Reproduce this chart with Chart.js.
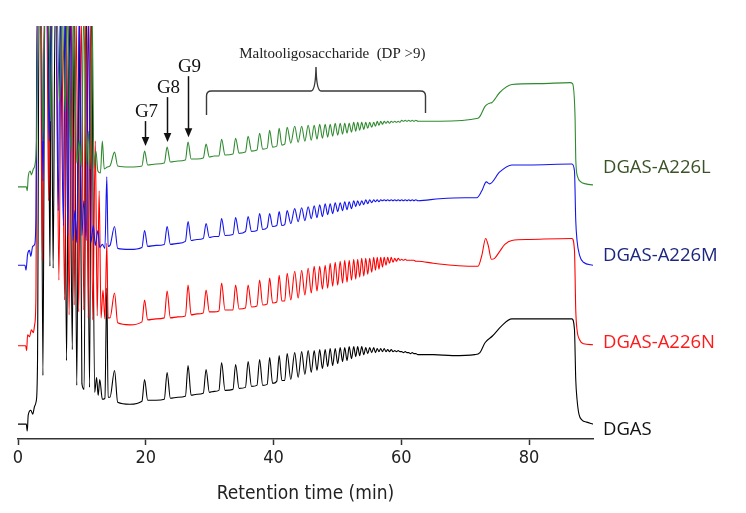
<!DOCTYPE html>
<html>
<head>
<meta charset="utf-8">
<script src="https://cdn.jsdelivr.net/npm/chart.js@4.4.0/dist/chart.umd.min.js"></script>
<style>
html,body{margin:0;padding:0;background:#fff;}
canvas{display:block;}
</style>
</head>
<body>
<canvas id="c" width="746" height="513"></canvas>
<script>
// ---------- DATA (retention time in min, detector response in arbitrary units) ----------
const xTickValues = [0, 20, 40, 60, 80];
const seriesNames = ['DGAS-A226L', 'DGAS-A226M', 'DGAS-A226N', 'DGAS'];

// oligosaccharide peak apex times (G6, G7, G8, G9, DP10 ...)
const peakTimes = [15.11,19.81,23.34,26.62,29.44,31.87,34.06,36.02,37.82,39.39,
  40.88,42.13,43.31,44.40,45.42,46.36,47.22,48.08,48.86,49.65,
  50.43,51.14,51.84,52.55,53.17,53.80,54.43,55.05,55.68,56.23,
  56.77,57.32,57.87,58.42,58.97,59.51,60.06,60.61,61.16,61.71,
  62.26];
// valley / peak-foot times between those peaks
const valleyTimes = [14.4,15.6,17.5,19.4,20.3,21.6,22.9,23.85,25.0,26.2,
  27.1,28.0,29.0,29.95,30.7,31.45,32.4,33.65,34.6,35.6,
  36.55,37.4,38.3,39.0,39.85,40.5,41.3,41.75,42.7,43.85,
  44.9,45.9,46.8,47.65,48.47,49.25,50.04,50.8,51.5,52.2,
  52.86,53.48,54.12,54.74,55.36,55.95,56.5,57.05,57.6,58.15,
  58.7,59.24,59.78,60.33,60.88,61.43,61.98,62.6];

// ---- DGAS-A226L (green) ----
const lEarly = [[0,254],[1.3,254],[1.45,250],[1.6,264],[1.9,270],[2.1,266],[2.4,272],[2.65,276],[2.9,300],[3.2,430],
  [3.6,430],[3.9,300],[4.2,430],[4.8,430],[5.1,320],[5.4,430],[6.1,430],[6.5,340],[6.9,430],[7.4,330],
  [7.7,430],[8.3,290],[8.7,430],[9.2,278],[9.6,300],[9.9,274],[10.3,430],[10.7,276],[11.0,310],[11.3,272],
  [11.6,430],[11.9,273],[12.2,290],[12.5,270],[12.9,268],[13.2,300],[13.5,272],[14.0,274]];
const lPeaks = [289,290,294,299,297,302,303,305,308,311,
  313,314,315,315,316,316,317,317,317,318,
  318,318,318,319,319,319,319,319,319,320,
  320,320,320,320,320,320,321,321,321,321,
  321];
const lValleys = [275,275,274,275,276,277,278,279,280,281,
  282,282,283,284,285,285,286,287,288,289,
  290,291,292,293,294,295,296,297,298,299,
  300,301,302,303,304,305,306,307,308,309,
  310,311,312,313,314,315,316,317,318,318,
  319,319,319,320,320,320,320,320];
const lTail = [[66.0,320],[72.0,323],[72.4,326],[73.1,335],[73.7,338],[74.2,339],[75.4,349],[77.3,357],[81.7,358],[86.4,359],
  [86.8,358],[87.2,322],[87.3,282],[87.6,264],[88.1,259],[88.9,257],[90.0,256]];

// ---- DGAS-A226M (blue) ----
const mEarly = [[0,175],[1.1,175],[1.25,170],[1.5,186],[1.8,190],[2.0,184],[2.3,194],[2.6,196],[2.8,220],[3.0,430],
  [3.6,430],[3.9,260],[4.2,430],[4.6,430],[4.9,300],[5.2,430],[5.9,430],[6.3,230],[6.6,430],[7.1,215],
  [7.4,430],[7.8,205],[8.2,430],[8.6,200],[8.9,230],[9.2,198],[9.6,430],[10.0,205],[10.3,240],[10.7,200],
  [11.0,430],[11.4,198],[11.8,215],[12.1,195],[12.5,210],[12.8,193],[13.2,196],[13.6,192],[13.9,264],[14.1,194]];
const mPeaks = [214,210,214,219,217,222,223,224,227,227,
  229,230,232,233,234,235,236,237,237,238,
  238,239,239,240,240,240,241,241,241,241,
  241,241,241,241,241,241,241,241,241,241,
  241];
const mValleys = [195,192,191,193,194,195,196,196,197,199,
  200,201,202,203,204,204,205,206,207,209,
  209,210,211,213,214,215,215,216,217,219,
  220,222,223,224,226,227,229,230,231,232,
  234,235,236,237,238,239,239,240,240,240,
  240,240,240,240,240,240,240,240];
const mTail = [[66.0,242],[70.0,243],[71.8,243],[72.6,250],[73.3,259],[73.8,257],[75.4,269],[77.3,276],[80.0,276],[86.7,277],
  [87.1,270],[87.3,220],[87.5,200],[87.9,185],[88.5,178],[90.0,175]];

// ---- DGAS-A226N (red) ----
const nEarly = [[0,94],[1.2,94],[1.35,89],[1.5,105],[1.8,103],[2.1,110],[2.4,107],[2.6,115],[2.8,140],[3.0,430],
  [3.5,430],[3.8,180],[4.1,430],[4.5,430],[4.8,240],[5.1,430],[6.0,430],[6.4,160],[6.8,430],[7.3,140],
  [7.6,430],[8.0,125],[8.4,430],[8.8,135],[9.1,430],[9.5,128],[9.9,430],[10.3,130],[10.6,430],[11.0,122],
  [11.3,430],[11.7,120],[12.1,300],[12.4,124],[12.7,250],[13.0,122],[13.3,150],[13.6,121],[13.9,197],[14.1,122]];
const nPeaks = [147,140,149,155,150,157,155,155,160,162,
  165,167,169,170,172,174,174,175,177,178,
  179,180,180,181,181,182,182,182,183,183,
  183,183,183,183,182,182,181,181,180,180,
  179];
const nValleys = [122,117,115,118,120,121,122,122,123,124,
  125,126,127,128,128,129,130,130,131,132,
  133,134,135,136,137,138,139,139,140,142,
  145,147,149,151,152,154,155,157,158,160,
  161,163,164,166,168,170,171,173,175,177,
  178,179,180,180,180,180,180,179];
const nTail = [[65.0,177],[68.0,175],[71.0,174],[72.0,174],[72.6,185],[73.2,202],[73.6,195],[74.1,181],[74.6,182],[75.4,189],
  [76.2,196],[77.3,200],[80.0,201],[86.7,202],[87.1,190],[87.3,130],[87.5,110],[87.9,100],[88.5,96],[90.0,95]];

// ---- DGAS (black) ----
const dEarly = [[0,15],[1.3,15],[1.45,8],[1.6,24],[2.0,29],[2.3,25],[2.6,33],[2.85,38],[3.05,75],[3.3,430],
  [3.6,430],[3.9,64],[4.2,430],[4.7,430],[5.0,174],[5.2,430],[5.5,172],[5.8,430],[7.2,430],[7.6,79],
  [8.0,430],[8.5,90],[8.8,430],[9.2,54],[9.6,430],[10.0,56],[10.35,50],[10.7,430],[11.2,52],[11.5,430],
  [12.0,47],[12.3,62],[12.55,44],[12.8,60],[13.2,40],[13.6,41],[13.9,152],[14.1,42]];
const dPeaks = [69,60,67,74,70,77,75,78,80,82,
  84,86,87,88,89,89,90,90,91,91,
  92,92,93,93,93,93,92,92,92,91,
  91,91,90,90,89,89,88,88,87,87,
  86];
const dValleys = [42,37,35,38,39,39,40,41,42,43,
  44,45,46,47,48,49,49,50,51,52,
  53,54,54,55,56,58,59,59,60,62,
  65,67,69,71,73,74,76,78,79,81,
  83,84,85,86,87,87,88,88,88,88,
  88,88,88,87,87,86,86,85];
const dTail = [[65.0,85],[68.0,84],[71.5,85],[72.3,87],[73.1,97],[74.3,104],[75.7,114],[77.3,121],[86.7,121],[87.1,110],
  [87.3,60],[87.5,40],[87.8,25],[88.3,19],[89.0,17],[90.0,15]];

// annotation content
const gLabels = ['G7', 'G8', 'G9'];
const gPeakIndex = [1, 2, 3];
const dpLabel = 'Maltooligosaccharide  (DP >9)';
const dpRangeEnd = 63.7;

// ---------- BUILD ----------
function buildTrace(early, peaks, valleys, tail) {
  const mid = peakTimes.map((t, i) => ({x: t, y: peaks[i]}))
    .concat(valleyTimes.map((t, i) => ({x: t, y: valleys[i]})))
    .sort((a, b) => a.x - b.x);
  return early.map(([x, y]) => ({x, y})).concat(mid, tail.map(([x, y]) => ({x, y})));
}
const colors = ['#2f8a2f', '#1414ee', '#ff0000', '#000000'];
const labelColors = ['#3b5228', '#1c2680', '#ff1a1a', '#111111'];
const traces = [
  buildTrace(lEarly, lPeaks, lValleys, lTail),
  buildTrace(mEarly, mPeaks, mValleys, mTail),
  buildTrace(nEarly, nPeaks, nValleys, nTail),
  buildTrace(dEarly, dPeaks, dValleys, dTail)
];

const annotPlugin = {
  id: 'annot',
  afterDatasetsDraw(chart) {
    const {ctx, scales: {x, y}, chartArea} = chart;
    ctx.save();
    // G7 / G8 / G9 arrows
    ctx.strokeStyle = '#111'; ctx.fillStyle = '#111'; ctx.lineWidth = 1.5;
    const arrowLen = [25, 45, 61];
    gPeakIndex.forEach((pi, k) => {
      const px = Math.round(x.getPixelForValue(peakTimes[pi])) + 0.5;
      const tip = y.getPixelForValue(lPeaks[pi]) - 5;
      const top = tip - arrowLen[k];
      ctx.beginPath(); ctx.moveTo(px, top); ctx.lineTo(px, tip - 7); ctx.stroke();
      ctx.beginPath(); ctx.moveTo(px - 3.8, tip - 9); ctx.lineTo(px + 3.8, tip - 9); ctx.lineTo(px, tip); ctx.closePath(); ctx.fill();
      ctx.font = '19px "Liberation Serif", "Times New Roman", serif';
      ctx.textAlign = 'center'; ctx.textBaseline = 'alphabetic';
      ctx.fillText(gLabels[k], px + 1, top - 4);
    });
    // brace for DP > 9
    const L = Math.round(x.getPixelForValue(peakTimes[4])) + 0.5;
    const R = Math.round(x.getPixelForValue(dpRangeEnd)) + 0.5;
    const M = (L + R) / 2;
    const hy = 91, tipY = 67;
    ctx.strokeStyle = '#3a3a3a'; ctx.lineWidth = 1.4;
    ctx.beginPath();
    ctx.moveTo(L, 115); ctx.lineTo(L, 96); ctx.quadraticCurveTo(L, hy, L + 5, hy);
    ctx.lineTo(M - 5, hy); ctx.quadraticCurveTo(M - 0.5, hy, M, tipY);
    ctx.quadraticCurveTo(M + 0.5, hy, M + 5, hy);
    ctx.lineTo(R - 5, hy); ctx.quadraticCurveTo(R, hy, R, 96); ctx.lineTo(R, 113);
    ctx.stroke();
    ctx.fillStyle = '#222';
    ctx.font = '15px "Liberation Serif", "Times New Roman", serif';
    ctx.textAlign = 'right'; ctx.textBaseline = 'alphabetic';
    ctx.fillText(dpLabel, R, 58);
    // series names at right
    const levels = [273, 185, 97, 9];
    ctx.font = '18.5px "Open Sans", "Noto Sans", sans-serif';
    ctx.textAlign = 'left'; ctx.textBaseline = 'middle';
    seriesNames.forEach((n, i) => {
      ctx.fillStyle = labelColors[i];
      ctx.fillText(n, chartArea.right + 10, y.getPixelForValue(levels[i]));
    });
    ctx.restore();
  }
};

new Chart(document.getElementById('c'), {
  type: 'line',
  data: {
    datasets: traces.map((d, i) => ({
      label: seriesNames[i], data: d, borderColor: colors[i], borderWidth: 1.1,
      pointRadius: 0, cubicInterpolationMode: 'monotone', fill: false
    }))
  },
  options: {
    responsive: false, animation: false, devicePixelRatio: 1,
    parsing: false, normalized: true,
    layout: {padding: {left: 18, right: 153, top: 26, bottom: 7.6}},
    plugins: {legend: {display: false}, tooltip: {enabled: false}},
    scales: {
      x: {
        type: 'linear', min: 0, max: 90,
        afterBuildTicks: s => { s.ticks = xTickValues.map(v => ({value: v})); },
        ticks: {color: '#222', padding: 3, font: {family: '"Liberation Sans Narrow", "DejaVu Sans Condensed", sans-serif', size: 18}},
        grid: {display: true, drawOnChartArea: false, drawTicks: true, tickLength: 6, tickColor: '#333', tickWidth: 1.5},
        border: {display: true, color: '#333', width: 1.5},
        title: {display: true, text: 'Retention time (min)', color: '#222', padding: {top: 10, bottom: 0},
          font: {family: '"Liberation Sans Narrow", "DejaVu Sans Condensed", sans-serif', size: 19}}
      },
      y: {display: false, min: 0, max: 416}
    }
  },
  plugins: [annotPlugin]
});
</script>
</body>
</html>
